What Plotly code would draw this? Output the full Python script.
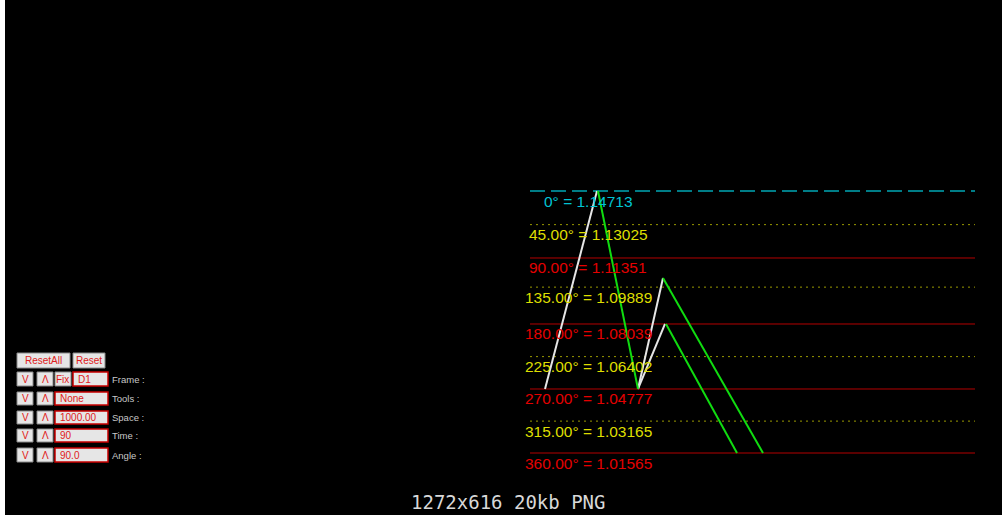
import plotly.graph_objects as go

# gann-style levels: angle -> price
angles = ['0°', '45.00°', '90.00°', '135.00°', '180.00°', '225.00°', '270.00°', '315.00°', '360.00°']
prices = [1.14713, 1.13025, 1.11351, 1.09889, 1.08039, 1.06402, 1.04777, 1.03165, 1.01565]
level_x = [530, 975]
label_x = 588

# zigzag swings (x in bar units, y price)
white_x = [[545, 597], [638, 663], [638, 665]]
white_y = [[1.04777, 1.14713], [1.04777, 1.10347], [1.04777, 1.08039]]
green_x = [[598, 638], [663, 763], [666, 737]]
green_y = [[1.14713, 1.04777], [1.10347, 1.01565], [1.08039, 1.01565]]

# control panel
row_labels = ['Frame :', 'Tools :', 'Space :', 'Time :', 'Angle :']
row_values = ['D1', 'None', '1000.00', '90', '90.0']

W, H = 1002, 515


def px(x):
    return x / W


def py(y):
    return 1 - y / H


fig = go.Figure()
annotations = []
shapes = []

for i, (a, p) in enumerate(zip(angles, prices)):
    if i == 0:
        line = dict(color='#00a6b4', width=1.5, dash='15px,6px')
        tcol = '#00c4d4'
    elif i % 2 == 1:
        line = dict(color='#9a9a00', width=1, dash='2px,4px')
        tcol = '#dede00'
    else:
        line = dict(color='#b40000', width=1)
        tcol = '#e40000'
    fig.add_trace(go.Scatter(x=level_x, y=[p, p], mode='lines', line=line,
                             hoverinfo='skip', showlegend=False))
    annotations.append(dict(x=label_x, y=p, xref='x', yref='y', yshift=-10,
                            text='%s = %.5f' % (a, p), showarrow=False,
                            xanchor='center', yanchor='middle',
                            font=dict(family='Liberation Sans, Arial', size=15.5, color=tcol)))

for xs, ys in zip(white_x, white_y):
    fig.add_trace(go.Scatter(x=xs, y=ys, mode='lines', line=dict(color='#e6e6e6', width=2),
                             hoverinfo='skip', showlegend=False))
for xs, ys in zip(green_x, green_y):
    fig.add_trace(go.Scatter(x=xs, y=ys, mode='lines', line=dict(color='#10dc10', width=2),
                             hoverinfo='skip', showlegend=False))


def box(x0, y0, x1, y1, text, border='#8a8a8a', bw=1, anchor='center'):
    shapes.append(dict(type='rect', xref='paper', yref='paper',
                       x0=px(x0), x1=px(x1), y0=py(y1), y1=py(y0),
                       fillcolor='#e6e6e6', line=dict(color=border, width=bw)))
    ax = (x0 + x1) / 2 if anchor == 'center' else x0 + 3
    annotations.append(dict(x=px(ax), y=py((y0 + y1) / 2), xref='paper', yref='paper',
                            text=text, showarrow=False, xanchor=anchor, yanchor='middle',
                            font=dict(family='Liberation Sans, Arial', size=10, color='#e02020')))


box(17, 353, 70, 368, 'ResetAll')
box(73, 353, 105, 368, 'Reset')
rows = [(372, 386), (392, 405), (411, 424), (429, 442), (448, 462)]
for i, ((y0, y1), lab, val) in enumerate(zip(rows, row_labels, row_values)):
    box(17, y0, 33, y1, 'V')
    box(37, y0, 53, y1, 'Λ')
    if i == 0:
        box(55, y0, 71, y1, 'Fix')
        box(73, y0, 108, y1, val, border='#c80000', bw=1.5, anchor='left')
    else:
        box(55, y0, 108, y1, val, border='#c80000', bw=1.5, anchor='left')
    annotations.append(dict(x=px(110), y=py((y0 + y1) / 2), xref='paper', yref='paper',
                            text=lab, showarrow=False, xanchor='left', yanchor='middle',
                            font=dict(family='Liberation Sans, Arial', size=9.5, color='#c8c8c8')))

# thumbnail caption
annotations.append(dict(x=px(508), y=py(502), xref='paper', yref='paper',
                        text='1272x616 20kb PNG', showarrow=False,
                        xanchor='center', yanchor='middle',
                        font=dict(family='DejaVu Sans Mono', size=19, color='#d8d8d8')))

# white strip on the left edge
shapes.append(dict(type='rect', xref='paper', yref='paper', x0=0, x1=px(5), y0=0, y1=1,
                   fillcolor='white', line=dict(width=0)))

# price scale: top level at y=191px, bottom level at y=453px
ppu = (453 - 191) / (prices[0] - prices[-1])
ytop = prices[0] + 191 / ppu
ybot = prices[-1] - (H - 453) / ppu

fig.update_layout(
    width=W, height=H,
    margin=dict(l=0, r=0, t=0, b=0),
    paper_bgcolor='black', plot_bgcolor='black',
    xaxis=dict(range=[0, W], visible=False, fixedrange=True),
    yaxis=dict(range=[ybot, ytop], visible=False, fixedrange=True),
    annotations=annotations, shapes=shapes,
    showlegend=False,
)

fig.write_html("out.html", config={'displayModeBar': False},
               post_script="document.body.style.margin='0';document.body.style.background='black';")
